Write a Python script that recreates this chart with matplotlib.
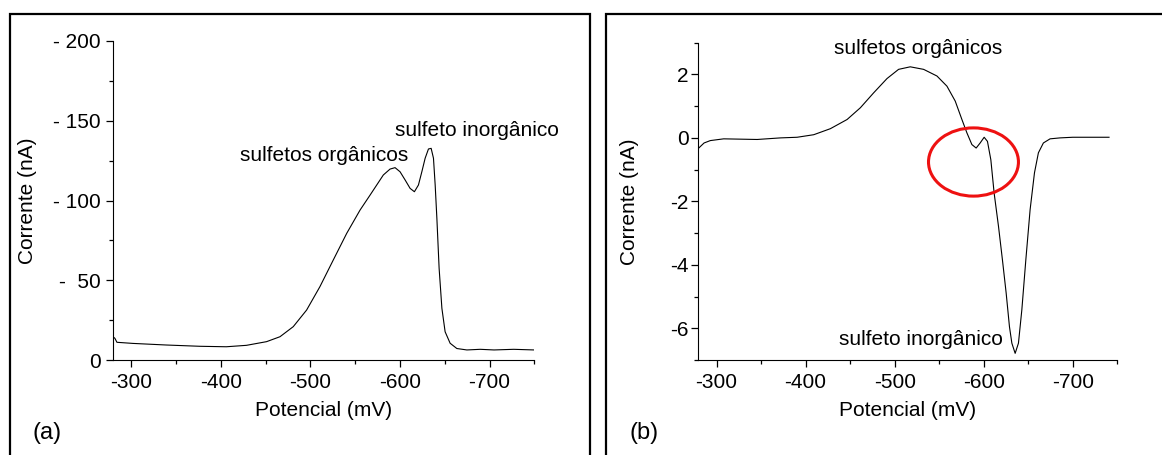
import matplotlib
matplotlib.use('Agg')
import matplotlib.pyplot as plt
from matplotlib.patches import Rectangle, Ellipse
from matplotlib.ticker import MultipleLocator

plt.rcParams['font.family'] = ['Liberation Sans', 'DejaVu Sans']
plt.rcParams['axes.unicode_minus'] = False

# (a) potencial (mV) x corrente (nA)
pot_a = [-279.4, -281.6, -283.9, -301.8, -339, -376.4, -406, -428.6, -451, -466,
         -480.8, -495.7, -510.6, -525.5, -540.5, -555.4, -566.6, -574, -581.4,
         -588.9, -594.5, -600.1, -605.7, -611.3, -616.1, -620.6, -624.4, -628.1,
         -631.8, -634.8, -637.4, -639.3, -641.2, -643.7, -646.8, -650.4, -656,
         -663.5, -674.7, -689.6, -705, -727, -750]
cur_a = [14.6, 13.6, 11.1, 10.4, 9.4, 8.6, 8.3, 9.2, 11.5, 14.6,
         20.9, 31.3, 46, 62.7, 79.4, 94, 103.4, 109.7, 116,
         119.7, 120.6, 118, 112.9, 107.6, 105.5, 109.7, 118, 126.5,
         132.3, 132.7, 126.5, 109.7, 88.8, 57.5, 32.4, 17.7, 10.5,
         7.2, 6.3, 6.7, 6.3, 6.7, 6.3]

# (b)
pot_b = [-280, -286, -293, -308, -345.6, -371.8, -390.5, -409.1, -427.8, -446.6,
         -461.5, -476.4, -491.4, -504.4, -517.5, -532.5, -547.5, -558.7, -568,
         -575.5, -581.1, -586.7, -591.5, -596, -600.5, -604.2, -608, -611.7,
         -616.6, -621, -625.2, -628.9, -631.6, -635.3, -639, -642.8, -647.3,
         -652.1, -657, -661.4, -667, -674.5, -685.7, -700, -740.7]
cur_b = [-0.32, -0.16, -0.085, -0.03, -0.05, 0.0, 0.02, 0.1, 0.29, 0.58,
         0.95, 1.42, 1.87, 2.16, 2.24, 2.16, 1.95, 1.63, 1.16,
         0.58, 0.16, -0.21, -0.32, -0.16, 0.02, -0.11, -0.69, -1.74,
         -2.79, -3.84, -4.89, -5.95, -6.47, -6.79, -6.47, -5.42, -3.84,
         -2.26, -1.1, -0.47, -0.16, -0.03, 0.0, 0.02, 0.02]

ticks_a = [0, 50, 100, 150, 200]
ticklabels_a = ['0', '-  50', '- 100', '- 150', '- 200']
ticks_b = [2, 0, -2, -4, -6]
xticks = [-300, -400, -500, -600, -700]

fig = plt.figure(figsize=(11.62, 4.55), dpi=100)

# molduras
fig.patches.append(Rectangle((10 / 1162, -0.1), 580 / 1162, 1.1 - 14 / 455,
                             transform=fig.transFigure, fill=False, lw=1.6,
                             edgecolor='black'))
fig.patches.append(Rectangle((606 / 1162, -0.1), 0.6, 1.1 - 14 / 455,
                             transform=fig.transFigure, fill=False, lw=1.6,
                             edgecolor='black'))

ax1 = fig.add_axes([113 / 1162, 1 - 360 / 455, 421.3 / 1162, 319 / 455])
ax2 = fig.add_axes([698.3 / 1162, 1 - 360 / 455, 419 / 1162, 317.3 / 455])

for ax in (ax1, ax2):
    ax.spines['top'].set_visible(False)
    ax.spines['right'].set_visible(False)
    ax.set_xlim(-279.5, -750)
    ax.set_xticks(xticks)
    ax.set_xticklabels([str(t) for t in xticks])
    ax.xaxis.set_minor_locator(MultipleLocator(50))
    ax.tick_params(which='major', length=5, width=0.9, labelsize=15)
    ax.tick_params(which='minor', length=3, width=0.9)
    ax.tick_params(axis='x', pad=4)
    ax.set_xlabel('Potencial (mV)', fontsize=15)
    ax.xaxis.set_label_coords(0.5, -0.13)
    ax.set_ylabel('Corrente (nA)', fontsize=15)
    ax.patch.set_alpha(0)

ax1.plot(pot_a, cur_a, color='black', lw=0.8)
ax1.set_ylim(0, 200)
ax1.set_yticks(ticks_a)
ax1.set_yticklabels(ticklabels_a)
ax1.yaxis.set_minor_locator(MultipleLocator(25))
ax1.tick_params(axis='y', pad=4)
ax1.yaxis.set_label_coords(-0.181, 0.5)
ax1.text(-515, 128.5, 'sulfetos orgânicos', fontsize=15, ha='center', va='center')
ax1.text(-686, 144, 'sulfeto inorgânico', fontsize=15, ha='center', va='center')

ax2.plot(pot_b, cur_b, color='black', lw=0.8)
ax2.set_ylim(-7, 3)
ax2.set_yticks(ticks_b)
ax2.yaxis.set_minor_locator(MultipleLocator(1))
ax2.tick_params(axis='y', pad=2)
ax2.yaxis.set_label_coords(-0.1415, 0.5)
ax2.text(-526, 2.82, 'sulfetos orgânicos', fontsize=15, ha='center', va='center')
ax2.text(-529, -6.34, 'sulfeto inorgânico', fontsize=15, ha='center', va='center')
ax2.add_patch(Ellipse((-588.5, -0.76), 101, 2.15, fill=False, edgecolor='#ee1111',
                      lw=2.2, zorder=5))

fig.text(47.5 / 1162, 1 - 433 / 455, '(a)', fontsize=17, ha='center', va='center')
fig.text(644 / 1162, 1 - 433 / 455, '(b)', fontsize=17, ha='center', va='center')

fig.savefig('out.png', dpi=100)
